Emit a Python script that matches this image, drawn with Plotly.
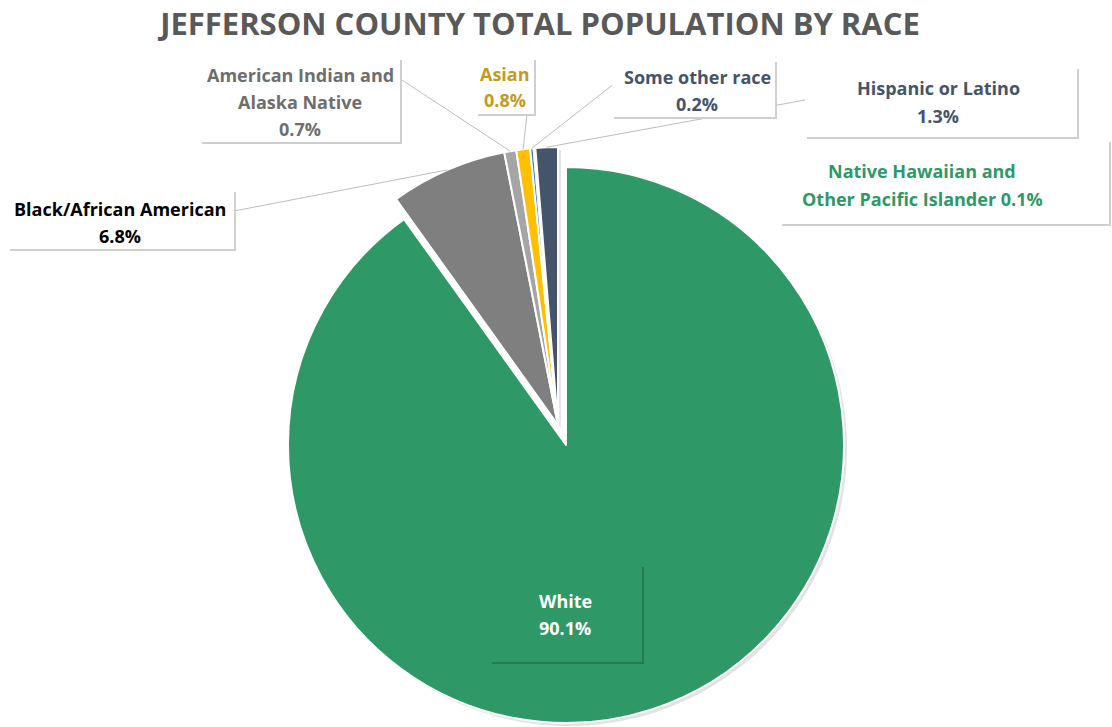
import math
import plotly.graph_objects as go

# ---------------- data ----------------
categories = ["White", "Black/African American", "American Indian and Alaska Native",
              "Asian", "Some other race", "Native Hawaiian and Other Pacific Islander",
              "Hispanic or Latino"]
percent = [90.1, 6.8, 0.7, 0.8, 0.2, 0.1, 1.3]
display_names = ["White", "Black/African American", "American Indian and<br>Alaska Native",
                 "Asian", "Some other race", "Native Hawaiian and<br>Other Pacific Islander",
                 "Hispanic or Latino"]
name_pct_sep = ["<br>", "<br>", "<br>", "<br>", "<br>", " ", "<br>"]

# ---------------- styles ----------------
slice_colors = ["#2E9966", "#7F7F7F", "#A5A5A5", "#FFC000", "#4472C4", "#70AD47", "#44546A"]
label_colors = ["#FFFFFF", "#000000", "#6E6E6E", "#C49A1C", "#44546A", "#2E9966", "#44546A"]

OFF = 0                       # page body margin (removed by post_script)
W, H = 1112 - OFF, 727 - OFF
CX, CY, R = 566, 445, 278     # pie centre / radius in page pixels
SHIFT_X, SHIFT_Y = -8, -20    # explosion of the non-white group (pixels)
LINE_GAP = 27                 # label line spacing in pixels

# label boxes in page pixels: (x0, y0, x1, y1), text centre (cx, cy), leader start (or None)
label_boxes = [
    ((490, 565, 642, 662), (565, 614), None),
    ((8, 190, 234, 249), (120, 222), (234, 211)),
    ((200, 58, 400, 142), (300, 102), (402, 80)),
    ((476, 58, 534, 114), (505, 87), (527, 114)),
    ((612, 60, 775, 117), (697, 90), (615, 83)),
    ((780, 140, 1109, 224), (922, 185), None),
    ((805, 67, 1077, 137), (938, 102), (805, 100)),
]


def px(x):
    return (x - OFF) / W


def py(y):
    return 1 - (y - OFF) / H


def domain(cx, cy, r):
    return dict(x=[px(cx - r), px(cx + r)], y=[py(cy + r), py(cy - r)])


n = len(categories)
transparent = "rgba(0,0,0,0)"
main_colors = [slice_colors[0]] + [transparent] * (n - 1)
group_colors = [transparent] + slice_colors[1:]
main_lw = [2] + [0] * (n - 1)
group_lw = [0] + [2] * (n - 1)

common = dict(labels=categories, values=percent, sort=False, direction="clockwise",
              rotation=0, textinfo="none", hoverinfo="label+percent", showlegend=False)

fig = go.Figure()
# soft shadows
fig.add_trace(go.Pie(**common, domain=domain(CX + 3, CY + 3, R),
                     marker=dict(colors=["#E2E2E2"] + [transparent] * (n - 1), line=dict(width=0))))
fig.add_trace(go.Pie(**common, domain=domain(CX + SHIFT_X + 3, CY + SHIFT_Y + 3, R),
                     marker=dict(colors=[transparent] + ["#E2E2E2"] * (n - 1), line=dict(width=0))))
# main slice
fig.add_trace(go.Pie(**common, domain=domain(CX, CY, R),
                     marker=dict(colors=main_colors, line=dict(color="white", width=main_lw))))
# exploded group
fig.add_trace(go.Pie(**common, domain=domain(CX + SHIFT_X, CY + SHIFT_Y, R),
                     marker=dict(colors=group_colors, line=dict(color="white", width=group_lw))))

# ---------------- labels, boxes, leader lines ----------------
shapes = []
annotations = []
total = sum(percent)
cum = 0.0
gx, gy = CX + SHIFT_X, CY + SHIFT_Y
for i in range(n):
    start = cum / total * 360
    cum += percent[i]
    end = cum / total * 360
    mid = math.radians((start + end) / 2)
    (x0, y0, x1, y1), (tx, ty), lead = label_boxes[i]
    if lead is not None:
        ex = gx + R * math.sin(mid)
        ey = gy - R * math.cos(mid)
        shapes.append(dict(type="line", xref="paper", yref="paper", layer="above",
                           x0=px(lead[0]), y0=py(lead[1]), x1=px(ex), y1=py(ey),
                           line=dict(color="#BDBDBD", width=1)))
for i in range(n):
    (x0, y0, x1, y1), (tx, ty), lead = label_boxes[i]
    is_white = i == 0
    shapes.append(dict(type="rect", xref="paper", yref="paper", layer="above",
                       x0=px(x0 + 2), x1=px(x1 + 2), y0=py(y0 + 2), y1=py(y1 + 2),
                       fillcolor="rgba(0,0,0,0.2)" if is_white else "#CFCFCF",
                       line=dict(width=0)))
    shapes.append(dict(type="rect", xref="paper", yref="paper", layer="above",
                       x0=px(x0), x1=px(x1), y0=py(y0), y1=py(y1),
                       fillcolor=slice_colors[0] if is_white else "white",
                       line=dict(width=0)))
    lines = f"{display_names[i]}{name_pct_sep[i]}{percent[i]:.1f}%".split("<br>")
    m = len(lines)
    for k, line in enumerate(lines):
        ly = ty + (k - (m - 1) / 2) * LINE_GAP
        annotations.append(dict(
            xref="paper", yref="paper", x=px(tx), y=py(ly), xanchor="center", yanchor="middle",
            showarrow=False, align="center", text=f"<b>{line}</b>",
            font=dict(family="Open Sans, Arial", size=18, color=label_colors[i])))

fig.update_layout(
    width=W, height=H,
    margin=dict(l=0, r=0, t=0, b=0),
    paper_bgcolor="white", plot_bgcolor="white",
    title=dict(text="<b>JEFFERSON COUNTY TOTAL POPULATION BY RACE</b>",
               x=px(540), xanchor="center", y=py(24), yanchor="middle",
               font=dict(family="Open Sans, Arial", size=31, color="#595959")),
    shapes=shapes,
    annotations=annotations,
)

fig.write_html("out.html", config={"displayModeBar": False},
               post_script="document.body.style.margin='0px';")
